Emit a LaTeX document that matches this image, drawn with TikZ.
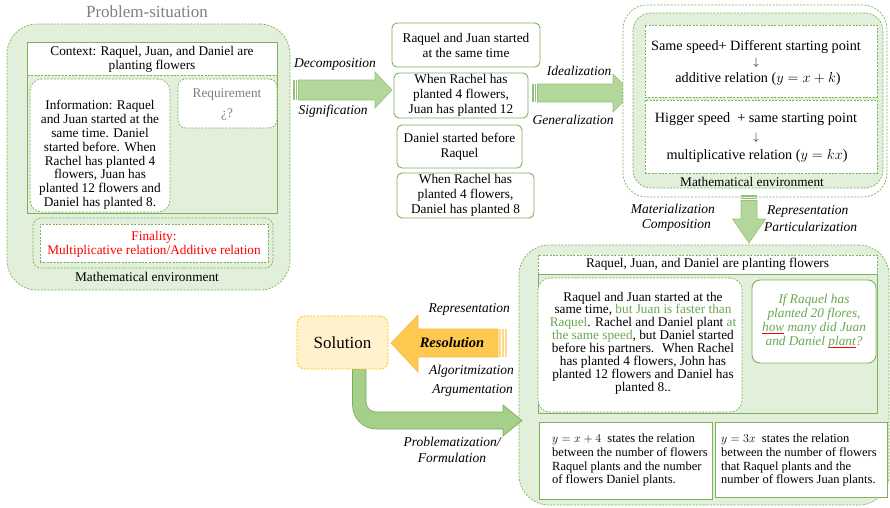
\documentclass[tikz,border=0pt]{standalone}
\usepackage{fontspec}
\setmainfont{Liberation Serif}
\usetikzlibrary{fit}

\definecolor{envfill}{HTML}{E2EFDA}
\definecolor{edge}{HTML}{7DB15B}
\definecolor{arrowfill}{HTML}{B3D79B}
\definecolor{arrowedge}{HTML}{93C277}
\definecolor{curvefill}{HTML}{A6CF8A}
\definecolor{curveedge}{HTML}{7AAE58}
\definecolor{goldfill}{HTML}{FFC94F}
\definecolor{goldedge}{HTML}{F5B841}
\definecolor{goldstripe}{HTML}{FFD98A}
\definecolor{solfill}{HTML}{FFF2CC}
\definecolor{soledge}{HTML}{FFC000}
\definecolor{greytext}{HTML}{808080}
\definecolor{greentext}{HTML}{6AA84F}
\definecolor{finred}{HTML}{FF0000}

% red spell-check style underline
\newsavebox\spellbox
\newcommand\spellmark[1]{\sbox\spellbox{#1}\rlap{\textcolor{red}{\rule[-2.4pt]{\wd\spellbox}{0.5pt}}}\usebox\spellbox}
\newcommand\gtxt[1]{\textcolor{greentext}{#1}}

\tikzset{
  dashline/.style={draw=edge, line width=0.7pt, dash pattern=on 2pt off 1.4pt},
  envbox/.style={dashline, fill=envfill, inner sep=0pt},
  whitedash/.style={dashline, fill=white, inner sep=0pt},
  solidbox/.style={draw=edge, line width=0.9pt, fill=white, inner sep=0pt},
  txt/.style={font=\fontsize{13.3}{14.2}\selectfont, align=center, inner sep=0pt},
  midtxt/.style={font=\fontsize{13.3}{15}\selectfont, align=center, inner sep=0pt},
  bigtxt/.style={font=\fontsize{14.2}{16}\selectfont, align=center, inner sep=0pt},
  downsign/.style={font=\fontsize{11}{11}\selectfont, inner sep=0pt},
  smalltxt/.style={font=\fontsize{12.5}{13.7}\selectfont, align=left, inner sep=0pt},
  lbl/.style={font=\fontsize{13.5}{15}\selectfont\itshape, inner sep=0pt},
  blockarrow/.style={fill=arrowfill, draw=arrowedge, line width=0.6pt},
}

\begin{document}
\begin{tikzpicture}[x=1pt, y=-1pt]
\useasboundingbox (0,0) rectangle (890,507);

% ---------------- Problem-situation ----------------
\node[font=\fontsize{17}{17}\selectfont, text=greytext] (pstitle) at (147,12) {Problem-situation};
\node[envbox, rounded corners=30pt, fit={(7,24)(290,290)}] (ps) {};
\node[fill=envfill, inner sep=0pt, fit={(28,43)(277,213)}] (psin) {};
\node[fill=white, inner sep=0pt, fit={(28,43)(277,75)}] (ctxrow) {};
\draw[draw=edge, line width=0.9pt] (psin.north west) rectangle (psin.south east);
\draw[dashline] (ctxrow.south west) -- (ctxrow.south east);
\node[txt] (ctx) at (152,59) {Context: Raquel, Juan, and Daniel are\\planting flowers};

\node[whitedash, rounded corners=12pt, fit={(30,79)(170,212)}] (infobox) {};
\node[txt, font=\fontsize{13.3}{13.8}\selectfont] (info) at (100,155)
  {Information: Raquel\\and Juan started at the\\same time. Daniel\\started before. When\\Rachel has planted 4\\flowers, Juan has\\planted 12 flowers and\\Daniel has planted 8.};

\node[whitedash, rounded corners=8pt, fit={(178,79)(277,128)}] (reqbox) {};
\node[txt, text=greytext] (req) at (227,95) {Requirement};
\node[txt, text=greytext] (reqq) at (227,114) {¿?};

\node[dashline, rounded corners=8pt, inner sep=0pt, fit={(33,218)(273,268)}] (finout) {};
\node[whitedash, fit={(40,224)(268,262)}] (finin) {};
\node[txt, text=finred] (fin) at (154,244) {Finality:\\Multiplicative relation/Additive relation};
\node[txt] (psenv) at (147,277) {Mathematical environment};

% ---------------- Decomposition arrow ----------------
\fill[arrowedge] (293,80) rectangle (294.5,100);
\fill[arrowedge] (295.8,80) rectangle (297.3,100);
\filldraw[blockarrow] (298.5,80) -- (375,80) -- (375,72) -- (392,90) -- (375,108) -- (375,100) -- (298.5,100) -- cycle;
\node[lbl] (decomp) at (335,64) {Decomposition};
\node[lbl] (signif) at (333,111) {Signification};

% ---------------- Decomposed facts ----------------
\node[solidbox, rounded corners=5pt, fit={(392,23)(540,67)}] (factA) {};
\node[midtxt] at (factA.center) {Raquel and Juan started\\at the same time};
\node[solidbox, rounded corners=5pt, fit={(394,73)(528,118)}] (factB) {};
\node[midtxt] at (factB.center) {When Rachel has\\planted 4 flowers,\\Juan has planted 12};
\node[solidbox, rounded corners=5pt, fit={(397,125)(522,168)}] (factC) {};
\node[midtxt] at (factC.center) {Daniel started before\\Raquel};
\node[solidbox, rounded corners=5pt, fit={(397,173)(534,218)}] (factD) {};
\node[midtxt] at (factD.center) {When Rachel has\\planted 4 flowers,\\Daniel has planted 8};

% ---------------- Idealization arrow ----------------
\fill[arrowedge] (532,84) rectangle (533.5,102);
\fill[arrowedge] (534.8,84) rectangle (536.3,102);
\filldraw[blockarrow] (537.5,84) -- (613,84) -- (613,74) -- (632,93) -- (613,112) -- (613,102) -- (537.5,102) -- cycle;
\node[lbl] (ideal) at (579,71) {Idealization};
\node[lbl] (general) at (573,120) {Generalization};

% ---------------- Mathematical environment (relations) ----------------
\node[dashline, fill=white, rounded corners=24pt, inner sep=0pt, fit={(623,5)(887,197)}] (menv) {};
\node[envbox, rounded corners=18pt, fit={(633,13)(883,188)}] (menvin) {};
\node[whitedash, fit={(645,25)(877,97)}] (addbox) {};
\node[bigtxt] (add1) at (756,47) {Same speed+ Different starting point};
\node[downsign] (add2) at (756,63) {$\downarrow$};
\node[bigtxt] (add3) at (758,79) {additive relation ($y = x + k$)};
\node[whitedash, fit={(645,100)(877,173)}] (mulbox) {};
\node[bigtxt] (mul1) at (756,119) {Higger speed~ + same starting point};
\node[downsign] (mul2) at (756,138) {$\downarrow$};
\node[bigtxt] (mul3) at (757,156) {multiplicative relation ($y = kx$)};
\node[txt] (menvlbl) at (752,182) {Mathematical environment};

% ---------------- Materialization arrow ----------------
\fill[arrowedge] (741,195) rectangle (757,196.5);
\fill[arrowedge] (741,197.8) rectangle (757,199.3);
\filldraw[blockarrow] (741,200.5) -- (757,200.5) -- (757,219) -- (765.5,219) -- (749,243) -- (732.5,219) -- (741,219) -- cycle;
\node[lbl, anchor=east] (mater) at (715,209) {Materialization};
\node[lbl, anchor=east] (compos) at (711,225) {Composition};
\node[lbl, anchor=west] (repr1) at (767,211) {Representation};
\node[lbl, anchor=west] (partic) at (764,227) {Particularization};

% ---------------- Particular problem ----------------
\node[envbox, rounded corners=30pt, fit={(519,245)(889,505)}] (prob) {};
\node[whitedash, fit={(538,255)(877,274)}] (probtitle) {};
\node[txt] at (probtitle.center) {Raquel, Juan, and Daniel are planting flowers};
\node[draw=edge, line width=0.9pt, fill=envfill, inner sep=0pt, fit={(538,274)(877,413)}] (probin) {};
\node[whitedash, rounded corners=12pt, fit={(538,278)(742,412)}] (stmtbox) {};
\node[txt, font=\fontsize{13.3}{12.9}\selectfont] (stmt) at (643,343)
  {Raquel and Juan started at the\\
   same time, \gtxt{but Juan is faster than}\\
   \gtxt{Raquel}. Rachel and Daniel plant \gtxt{at}\\
   \gtxt{the same speed}, but Daniel started\\
   before his partners.~ When Rachel\\
   has planted 4 flowers, John has\\
   planted 12 flowers and Daniel has\\
   planted 8..};
\node[solidbox, rounded corners=8pt, fit={(752,280)(876,363)}] (qbox) {};
\node[txt, font=\fontsize{13.3}{13.9}\selectfont\itshape, text=greentext] (quest) at (814,321)
  {If Raquel has\\planted 20 flores,\\\spellmark{how} many did Juan\\and Daniel \spellmark{plant}?};

\node[solidbox, fit={(539,422)(712,499)}] (eqA) {};
\node[smalltxt, anchor=north west] (eqAtxt) at (552,434)
  {$y = x + 4$\enspace states the relation\\between the number of flowers\\Raquel plants and the number\\of flowers Daniel plants.};
\node[solidbox, fit={(715,422)(887,497)}] (eqB) {};
\node[smalltxt, anchor=north west] (eqBtxt) at (721,434)
  {$y = 3x$\enspace states the relation\\between the number of flowers\\that Raquel plants and the\\number of flowers Juan plants.};

% ---------------- Problematization arrow (Solution -> problem) ----------------
\filldraw[fill=curvefill, draw=curveedge, line width=0.7pt]
  (352.5,369) -- (352.5,405) arc[start angle=180, end angle=90, radius=24]
  -- (503,429) -- (503,436) -- (522,420.5) -- (503,405) -- (503,412)
  -- (376,412) arc[start angle=90, end angle=180, radius=10]
  -- (366,369) -- cycle;
\node[lbl, align=center, font=\fontsize{13.5}{16}\selectfont\itshape] (problem) at (452,450)
  {Problematization/\\Formulation};

% ---------------- Solution ----------------
\node[fill=solfill, draw=soledge, line width=0.8pt, dash pattern=on 2pt off 1.4pt,
      rounded corners=8pt, inner sep=0pt, fit={(297,316)(388,369)}] (sol) {};
\node[font=\fontsize{17}{17}\selectfont] at (sol.center) {Solution};

% ---------------- Resolution arrow ----------------
\fill[goldstripe] (499,329) rectangle (500.8,357);
\fill[goldstripe] (502.2,329) rectangle (504,357);
\fill[goldstripe] (505.4,329) rectangle (507.2,357);
\filldraw[fill=goldfill, draw=goldedge, line width=0.6pt]
  (498,329) -- (418,329) -- (418,315) -- (391,343) -- (418,372) -- (418,357) -- (498,357) -- cycle;
\node[font=\fontsize{14.5}{15}\selectfont\bfseries\itshape] (resol) at (452,343) {Resolution};
\node[lbl, anchor=east] (repr2) at (510,309) {Representation};
\node[lbl, anchor=east] (algo) at (514,371) {Algoritmization};
\node[lbl, anchor=east] (argum) at (513,390) {Argumentation};

\end{tikzpicture}
\end{document}
